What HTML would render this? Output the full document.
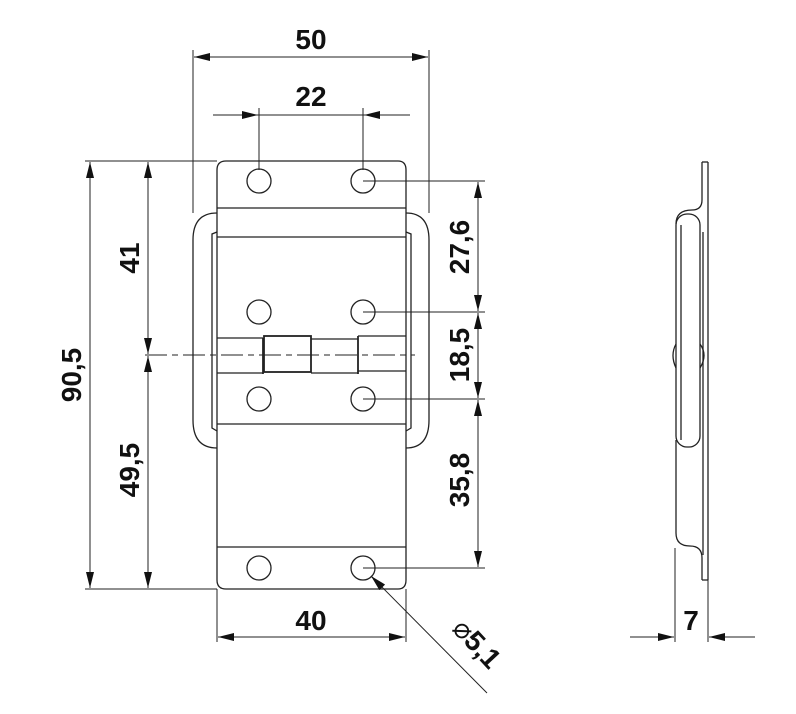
<!DOCTYPE html>
<html><head><style>body{margin:0;background:#fff}svg{display:block}text{font-family:"Liberation Sans",sans-serif;font-weight:bold;font-size:28px;fill:#111}</style></head>
<body>
<svg width="796" height="714" viewBox="0 0 796 714" xmlns="http://www.w3.org/2000/svg">
<defs>
<marker id="a" markerWidth="16" markerHeight="8" refX="16" refY="4" orient="auto" markerUnits="userSpaceOnUse"><path d="M0,0 L16,4 L0,8 Z" fill="#111"/></marker>
</defs>
<g fill="none" stroke="#222" stroke-width="1.3">
<path d="M217,213 Q193,213 193,240 L193,420 Q193,448 217,448"/>
<path d="M406,213 Q429,213 429,240 L429,420 Q429,448 406,448"/>
<path d="M217,232 L212,234 L212,428 L217,431"/>
<path d="M406,232 L411,234 L411,428 L406,431"/>
<path d="M226,161 L398,161 Q406,161 406,170 L406,580 Q406,589 398,589 L226,589 Q217,589 217,580 L217,170 Q217,161 226,161 Z"/>
<line x1="217" y1="208" x2="406" y2="208"/>
<line x1="217" y1="237" x2="406" y2="237"/>
<line x1="217" y1="424" x2="406" y2="424"/>
<line x1="217" y1="547" x2="406" y2="547"/>
<line x1="217" y1="338" x2="263" y2="338"/><line x1="217" y1="373" x2="263" y2="373"/>
<line x1="311" y1="339" x2="358" y2="339"/><line x1="311" y1="373" x2="358" y2="373"/>
<line x1="358" y1="336" x2="406" y2="336"/><line x1="358" y1="371" x2="406" y2="371"/>
<rect x="264" y="336" width="47" height="36" stroke-width="1.8"/>
<line x1="263" y1="338" x2="263" y2="374" stroke-width="1.8"/>
<line x1="358" y1="336" x2="358" y2="374" stroke-width="1.8"/>
<line x1="145" y1="355" x2="415" y2="355" stroke-dasharray="22,5,6,5" stroke-width="1"/>
<circle cx="259" cy="181" r="12"/><circle cx="363" cy="181" r="12"/>
<circle cx="259" cy="312" r="12"/><circle cx="363" cy="312" r="12"/>
<circle cx="259" cy="399" r="12"/><circle cx="363" cy="399" r="12"/>
<circle cx="259" cy="568" r="12"/><circle cx="363" cy="568" r="12"/>
</g>
<g fill="none" stroke="#222" stroke-width="1">
<line x1="193" y1="50" x2="193" y2="213"/><line x1="429" y1="50" x2="429" y2="213"/>
<line x1="311" y1="57" x2="194" y2="57" marker-end="url(#a)"/><line x1="311" y1="57" x2="428" y2="57" marker-end="url(#a)"/>
<line x1="259" y1="108" x2="259" y2="170"/><line x1="363" y1="108" x2="363" y2="170"/>
<line x1="213" y1="115" x2="258" y2="115" marker-end="url(#a)"/><line x1="410" y1="115" x2="364" y2="115" marker-end="url(#a)"/>
<line x1="258" y1="115" x2="364" y2="115"/>
<line x1="85" y1="161" x2="217" y2="161"/><line x1="85" y1="589" x2="217" y2="589"/>
<line x1="90" y1="375" x2="90" y2="162" marker-end="url(#a)"/><line x1="90" y1="375" x2="90" y2="588" marker-end="url(#a)"/>
<line x1="148" y1="258" x2="148" y2="162" marker-end="url(#a)"/><line x1="148" y1="258" x2="148" y2="354" marker-end="url(#a)"/>
<line x1="148" y1="470" x2="148" y2="356" marker-end="url(#a)"/><line x1="148" y1="470" x2="148" y2="588" marker-end="url(#a)"/>
<line x1="363" y1="181" x2="485" y2="181"/><line x1="363" y1="312" x2="485" y2="312"/>
<line x1="363" y1="399" x2="485" y2="399"/><line x1="363" y1="568" x2="485" y2="568"/>
<line x1="478" y1="247" x2="478" y2="182" marker-end="url(#a)"/><line x1="478" y1="247" x2="478" y2="311" marker-end="url(#a)"/>
<line x1="478" y1="355" x2="478" y2="313" marker-end="url(#a)"/><line x1="478" y1="355" x2="478" y2="398" marker-end="url(#a)"/>
<line x1="478" y1="480" x2="478" y2="400" marker-end="url(#a)"/><line x1="478" y1="480" x2="478" y2="567" marker-end="url(#a)"/>
<line x1="217" y1="589" x2="217" y2="642"/><line x1="406" y1="589" x2="406" y2="642"/>
<line x1="311" y1="637" x2="218" y2="637" marker-end="url(#a)"/><line x1="311" y1="637" x2="405" y2="637" marker-end="url(#a)"/>
<line x1="487" y1="693" x2="371" y2="576" marker-end="url(#a)"/>
<g stroke-width="1.3">
<line x1="702" y1="162" x2="702" y2="200"/><line x1="708" y1="162" x2="708" y2="580"/>
<line x1="702" y1="162" x2="708" y2="162"/><line x1="702" y1="580" x2="708" y2="580"/>
<line x1="703" y1="232" x2="703" y2="555"/>
<path d="M702,200 Q702,210 692,210 Q676,210 676,224"/>
<rect x="676" y="214" width="24" height="233" rx="11"/>
<path d="M681,225 L681,440"/>
<path d="M676,440 L676,533 Q676,546 690,546 Q702,546 702,558 L702,580"/>
<path d="M700,344 Q708,355 700,368"/>
<path d="M676,344 Q670,355 676,368"/>
</g>
<line x1="675" y1="548" x2="675" y2="642"/><line x1="708" y1="580" x2="708" y2="642"/>
<line x1="630" y1="637" x2="674" y2="637" marker-end="url(#a)"/><line x1="755" y1="637" x2="709" y2="637" marker-end="url(#a)"/>
</g>
<text x="311" y="49" text-anchor="middle">50</text>
<text x="311" y="106" text-anchor="middle">22</text>
<text x="311" y="630" text-anchor="middle">40</text>
<text x="691" y="630" text-anchor="middle">7</text>
<text transform="translate(81,375) rotate(-90)" text-anchor="middle">90,5</text>
<text transform="translate(139,258) rotate(-90)" text-anchor="middle">41</text>
<text transform="translate(139,470) rotate(-90)" text-anchor="middle">49,5</text>
<text transform="translate(469,247) rotate(-90)" text-anchor="middle">27,6</text>
<text transform="translate(469,355) rotate(-90)" text-anchor="middle">18,5</text>
<text transform="translate(469,480) rotate(-90)" text-anchor="middle">35,8</text>
<text transform="translate(470,650) rotate(47)" text-anchor="middle"><tspan font-weight="normal">⌀</tspan>5,1</text>
</svg>
</body></html>
